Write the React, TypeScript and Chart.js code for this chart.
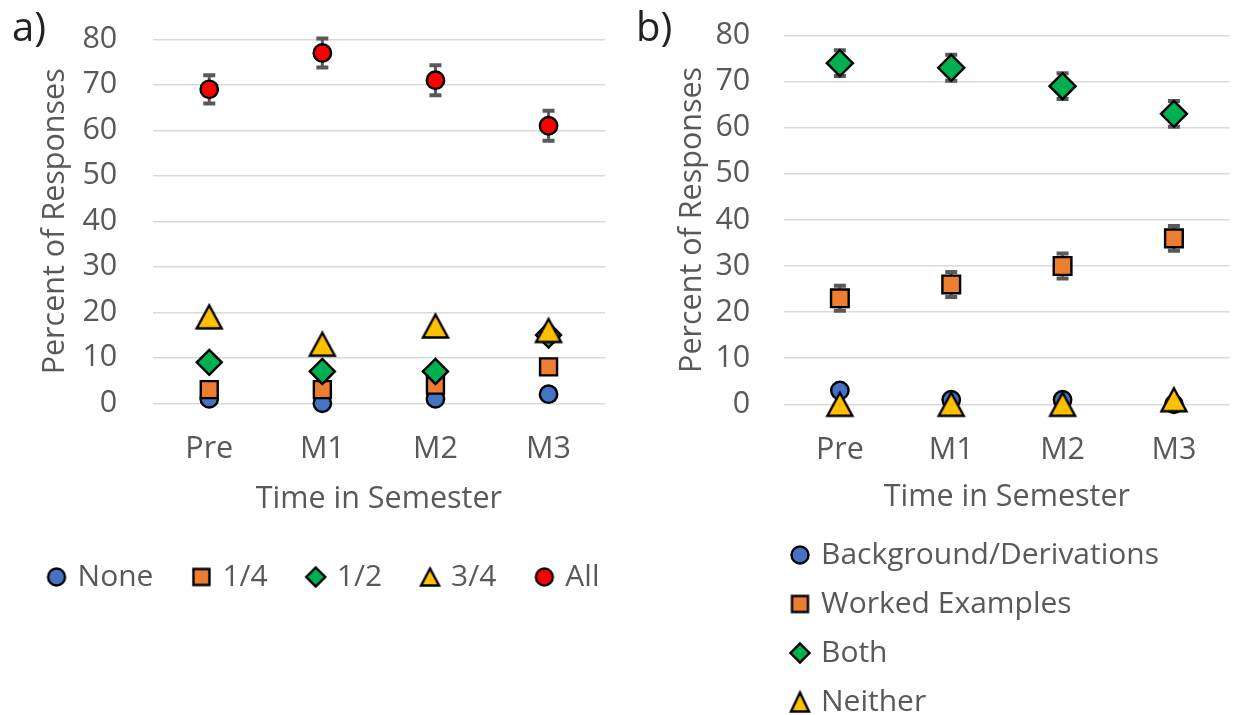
import React, { useEffect, useRef } from "react";
import { Chart, registerables } from "chart.js";

Chart.register(...registerables);

// ---------- data ----------
const categories = ["Pre", "M1", "M2", "M3"];
const yMin = 0;
const yMax = 80;
const yStep = 10;

// panel a
const aNone = [1, 0, 1, 2];
const aQuarter = [3, 3, 4, 8];
const aHalf = [9, 7, 7, 15];
const aThreeQuarter = [19, 13, 17, 16];
const aAll = [69, 77, 71, 61];
const aAllErr = [3.1, 3.2, 3.3, 3.3];

// panel b
const bBackground = [3, 1, 1, 0];
const bWorked = [23, 26, 30, 36];
const bWorkedErr = [2.7, 2.7, 2.7, 2.7];
const bBoth = [74, 73, 69, 63];
const bBothErr = [2.8, 2.8, 2.8, 2.8];
const bNeither = [0, 0, 0, 1];

const aLabels = ["None", "1/4", "1/2", "3/4", "All"];
const bLabels = ["Background/Derivations", "Worked Examples", "Both", "Neither"];
const xTitle = "Time in Semester";
const yTitle = "Percent of Responses";

// ---------- styles ----------
const FAMILY = "'Open Sans', sans-serif";
const TEXT = "#595959";
const GRID = "#d9d9d9";
const BLUE = "#4472C4";
const ORANGE = "#ED7D31";
const GREEN = "#00B050";
const YELLOW = "#FFC000";
const RED = "#FF0000";
const FS = 30.5;
const BW = 2.4;

function marker(shape: string, w: number, h: number, fill: string, lw = BW) {
  const c = document.createElement("canvas");
  const pad = lw + 2;
  c.width = Math.round(w + 2 * pad);
  c.height = Math.round(h + 2 * pad);
  const ctx = c.getContext("2d")!;
  const cx = c.width / 2;
  const cy = c.height / 2;
  ctx.beginPath();
  if (shape === "circle") {
    ctx.ellipse(cx, cy, w / 2, h / 2, 0, 0, Math.PI * 2);
  } else if (shape === "rect") {
    ctx.rect(cx - w / 2, cy - h / 2, w, h);
  } else if (shape === "diamond") {
    ctx.moveTo(cx, cy - h / 2);
    ctx.lineTo(cx + w / 2, cy);
    ctx.lineTo(cx, cy + h / 2);
    ctx.lineTo(cx - w / 2, cy);
  } else {
    ctx.moveTo(cx, cy - h / 2);
    ctx.lineTo(cx + w / 2, cy + h / 2);
    ctx.lineTo(cx - w / 2, cy + h / 2);
  }
  ctx.closePath();
  ctx.fillStyle = fill;
  ctx.fill();
  ctx.lineJoin = "miter";
  ctx.lineWidth = lw;
  ctx.strokeStyle = "#000";
  ctx.stroke();
  return c;
}

const errorBarPlugin = {
  id: "errorBars",
  beforeDatasetsDraw(chart: any) {
    const { ctx } = chart;
    const xs = chart.scales.x;
    const ys = chart.scales.y;
    chart.data.datasets.forEach((ds: any) => {
      const errs = ds.errors;
      if (!errs) return;
      ctx.save();
      ctx.strokeStyle = TEXT;
      ds.data.forEach((v: number, i: number) => {
        const px = xs.getPixelForValue(i);
        const top = ys.getPixelForValue(v + errs[i]);
        const bot = ys.getPixelForValue(v - errs[i]);
        ctx.lineWidth = 3;
        ctx.beginPath();
        ctx.moveTo(px, top);
        ctx.lineTo(px, bot);
        ctx.stroke();
        ctx.lineWidth = 4;
        ctx.beginPath();
        ctx.moveTo(px - 6, top);
        ctx.lineTo(px + 6, top);
        ctx.moveTo(px - 6, bot);
        ctx.lineTo(px + 6, bot);
        ctx.stroke();
      });
      ctx.restore();
    });
  },
};

function pointDs(label: string, data: number[], style: any, radius: number, fill: string, order: number, errors?: number[]) {
  return {
    label,
    data,
    showLine: false,
    pointStyle: style,
    pointRadius: radius,
    pointHoverRadius: radius,
    pointBackgroundColor: fill,
    backgroundColor: fill,
    pointBorderColor: "#000",
    borderColor: "#000",
    pointBorderWidth: BW,
    borderWidth: BW,
    clip: false,
    order,
    errors,
  };
}

function scales(o: any) {
  return {
    x: {
      type: "category",
      offset: true,
      grid: { display: false, drawTicks: false },
      border: { display: false },
      ticks: {
        color: TEXT,
        font: { family: FAMILY, size: FS },
        padding: o.xTickPad,
        maxRotation: 0,
        autoSkip: false,
      },
      title: {
        display: true,
        text: xTitle,
        color: TEXT,
        font: { family: FAMILY, size: FS },
        padding: { top: 0, bottom: 0 },
      },
      afterFit: (s: any) => {
        s.height = o.xHeight;
      },
    },
    y: {
      min: yMin,
      max: yMax,
      grid: { color: GRID, lineWidth: 1.5, drawTicks: false },
      border: { display: false },
      ticks: {
        stepSize: yStep,
        color: TEXT,
        font: { family: FAMILY, size: FS },
        padding: o.yTickPad,
      },
      title: {
        display: true,
        text: yTitle,
        color: TEXT,
        font: { family: FAMILY, size: FS },
        padding: { top: 0, bottom: 0 },
      },
      afterFit: (s: any) => {
        s.width = o.yWidth;
        s.paddingTop = 0;
        s.paddingBottom = 0;
      },
    },
  };
}

function legendLabels(markers: HTMLCanvasElement[], padding: number) {
  return {
    usePointStyle: true,
    boxWidth: 12,
    boxHeight: 12,
    padding,
    color: TEXT,
    font: { family: FAMILY, size: 30 },
    sort: (a: any, b: any) => a.datasetIndex - b.datasetIndex,
    generateLabels: (chart: any) => {
      const items = (Chart.defaults as any).plugins.legend.labels.generateLabels(chart);
      return items.map((it: any) => ({ ...it, pointStyle: markers[it.datasetIndex], fontColor: TEXT }));
    },
  };
}

function legendOnly(labels: string[], fills: string[], markers: HTMLCanvasElement[], position: string, padding: number, layoutPad: any) {
  return {
    type: "line",
    data: {
      labels: [],
      datasets: labels.map((l, i) => ({
        label: l,
        data: [],
        backgroundColor: fills[i],
        borderColor: "#000",
      })),
    },
    options: {
      animation: false,
      responsive: false,
      events: [],
      layout: { padding: layoutPad },
      scales: { x: { display: false }, y: { display: false } },
      plugins: {
        legend: { position, align: position === "left" ? "start" : "center", labels: legendLabels(markers, padding) },
        tooltip: { enabled: false },
      },
    },
  } as any;
}

export default function App() {
  const refA = useRef<HTMLCanvasElement>(null);
  const refAL = useRef<HTMLCanvasElement>(null);
  const refB = useRef<HTMLCanvasElement>(null);
  const refBL = useRef<HTMLCanvasElement>(null);

  useEffect(() => {
    const triChart = marker("triangle", 25, 23, YELLOW);
    const legA = [
      marker("circle", 17, 17, BLUE),
      marker("rect", 16, 16, ORANGE),
      marker("diamond", 19, 19, GREEN),
      marker("triangle", 18, 17, YELLOW),
      marker("circle", 17, 17, RED),
    ];
    const legB = [
      marker("circle", 17, 17, BLUE),
      marker("rect", 16, 16, ORANGE),
      marker("diamond", 19, 19, GREEN),
      marker("triangle", 18, 19, YELLOW),
    ];

    const chartA = new Chart(refA.current!, {
      type: "line",
      data: {
        labels: categories,
        datasets: [
          pointDs(aLabels[0], aNone, "circle", 8.7, BLUE, 5),
          pointDs(aLabels[1], aQuarter, "rect", 12, ORANGE, 4),
          pointDs(aLabels[2], aHalf, "rectRot", 12.5, GREEN, 3),
          pointDs(aLabels[3], aThreeQuarter, triChart, 12, YELLOW, 2),
          pointDs(aLabels[4], aAll, "circle", 8.7, RED, 1, aAllErr),
        ] as any,
      },
      options: {
        animation: false,
        responsive: false,
        events: [],
        layout: { padding: { left: 37, right: 9.3, top: 39.3, bottom: 42 } },
        scales: scales({ xTickPad: 27.7, xHeight: 114.7, yTickPad: 35.4, yWidth: 115.7 }) as any,
        plugins: {
          legend: { display: false },
          tooltip: { enabled: false },
        },
      },
      plugins: [errorBarPlugin],
    });

    const chartAL = new Chart(
      refAL.current!,
      legendOnly(aLabels, [BLUE, ORANGE, GREEN, YELLOW, RED], legA, "top", 42, { right: 10 })
    );

    const chartB = new Chart(refB.current!, {
      type: "line",
      data: {
        labels: categories,
        datasets: [
          pointDs(bLabels[0], bBackground, "circle", 8.7, BLUE, 4),
          pointDs(bLabels[1], bWorked, "rect", 12.5, ORANGE, 3, bWorkedErr),
          pointDs(bLabels[2], bBoth, "rectRot", 13, GREEN, 2, bBothErr),
          pointDs(bLabels[3], bNeither, triChart, 12, YELLOW, 1),
        ] as any,
      },
      options: {
        animation: false,
        responsive: false,
        events: [],
        layout: { padding: { left: 54, right: 2.5, top: 35.5, bottom: 14 } },
        scales: scales({ xTickPad: 27.7, xHeight: 111.7, yTickPad: 33.9, yWidth: 110.2 }) as any,
        plugins: {
          legend: { display: false },
          tooltip: { enabled: false },
        },
      },
      plugins: [errorBarPlugin],
    });

    const chartBL = new Chart(
      refBL.current!,
      legendOnly(bLabels, [BLUE, ORANGE, GREEN, YELLOW], legB, "left", 19, { left: 155, top: 41 })
    );

    return () => {
      chartA.destroy();
      chartAL.destroy();
      chartB.destroy();
      chartBL.destroy();
    };
  }, []);

  const panelLabel: React.CSSProperties = {
    position: "absolute",
    top: 6,
    fontFamily: FAMILY,
    fontSize: 40,
    lineHeight: 1,
    color: "#222",
  };

  return (
    <div style={{ position: "absolute", left: 0, top: 0, width: 1241, height: 715, overflow: "hidden", background: "#fff" }}>
      <canvas ref={refA} width={620} height={560} style={{ position: "absolute", left: 0, top: 0, width: 620, height: 560 }} />
      <canvas ref={refB} width={625} height={530} style={{ position: "absolute", left: 620, top: 0, width: 625, height: 530 }} />
      <canvas ref={refAL} width={660} height={200} style={{ position: "absolute", left: 0, top: 520, width: 660, height: 200 }} />
      <canvas ref={refBL} width={1000} height={300} style={{ position: "absolute", left: 620, top: 480, width: 1000, height: 300 }} />
      <div style={{ ...panelLabel, left: 12 }}>a)</div>
      <div style={{ ...panelLabel, left: 636 }}>b)</div>
    </div>
  );
}
